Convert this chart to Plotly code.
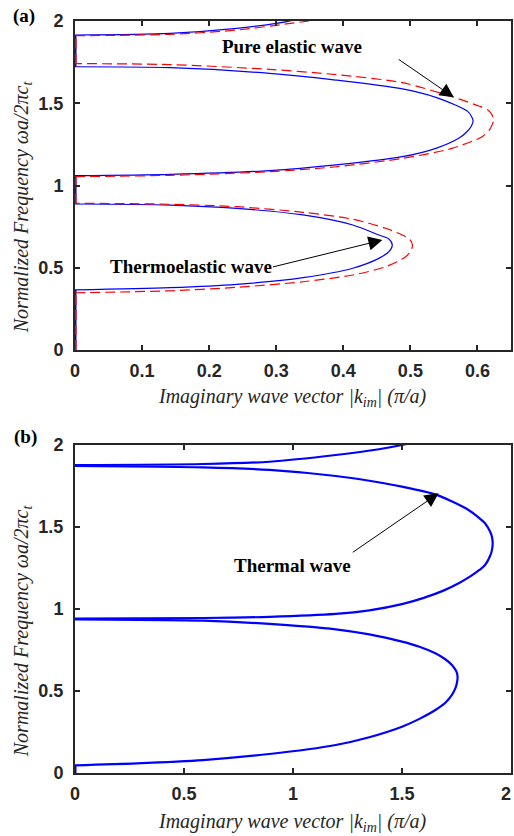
import plotly.graph_objects as go

# ---------------- data ----------------
# Panel (a): thermoelastic (blue) vs pure elastic (red), |k_im| vs normalized frequency
a_blue_l1_k = [0, 0.142, 0.241, 0.340, 0.414, 0.453, 0.468, 0.473, 0.468, 0.453, 0.414, 0.340, 0.241, 0.142, 0]
a_blue_l1_f = [0.365, 0.379, 0.399, 0.440, 0.497, 0.557, 0.598, 0.638, 0.675, 0.699, 0.760, 0.821, 0.861, 0.881, 0.8875]
a_red_l1_k = [0, 0.142, 0.241, 0.340, 0.414, 0.463, 0.493, 0.501, 0.503, 0.500, 0.493, 0.463, 0.414, 0.340, 0.241, 0.142, 0]
a_red_l1_f = [0.348, 0.360, 0.381, 0.415, 0.456, 0.506, 0.567, 0.605, 0.638, 0.668, 0.689, 0.740, 0.795, 0.837, 0.871, 0.886, 0.892]

a_blue_l2_k = [0, 0.142, 0.290, 0.389, 0.488, 0.538, 0.572, 0.585, 0.591, 0.5935, 0.591, 0.585, 0.567, 0.538, 0.488, 0.389, 0.290, 0.142, 0]
a_blue_l2_f = [1.060, 1.068, 1.090, 1.125, 1.175, 1.226, 1.287, 1.330, 1.362, 1.392, 1.421, 1.452, 1.489, 1.536, 1.587, 1.641, 1.682, 1.716, 1.722]
a_red_l2_k = [0, 0.142, 0.290, 0.389, 0.488, 0.562, 0.607, 0.618, 0.622, 0.624, 0.622, 0.616, 0.602, 0.562, 0.488, 0.389, 0.290, 0.142, 0]
a_red_l2_f = [1.054, 1.062, 1.084, 1.114, 1.165, 1.226, 1.297, 1.340, 1.370, 1.398, 1.427, 1.458, 1.483, 1.540, 1.625, 1.674, 1.706, 1.735, 1.741]

a_blue_l3_k = [0, 0.142, 0.241, 0.300, 0.320, 0.340]
a_blue_l3_f = [1.915, 1.925, 1.955, 1.986, 2.000, 2.015]
a_red_l3_k = [0, 0.142, 0.241, 0.315, 0.349, 0.370]
a_red_l3_f = [1.911, 1.919, 1.945, 1.982, 2.000, 2.010]

# zero-|k_im| (pass band) segments on the frequency axis
a_blue_pass_f = [(0, 0.365), (0.8875, 1.060), (1.722, 1.915)]
a_red_pass_f = [(0, 0.348), (0.892, 1.054), (1.741, 1.911)]

# Panel (b): thermal wave
b_l1_k = [0, 0.283, 0.587, 0.892, 1.196, 1.350, 1.500, 1.580, 1.653, 1.700, 1.729, 1.746, 1.752, 1.755,
          1.752, 1.744, 1.729, 1.700, 1.653, 1.580, 1.500, 1.350, 1.196, 0.892, 0.587, 0]
b_l1_f = [0.047, 0.059, 0.079, 0.116, 0.171, 0.218, 0.282, 0.330, 0.384, 0.430, 0.476, 0.520, 0.550, 0.584,
          0.610, 0.632, 0.659, 0.692, 0.730, 0.770, 0.801, 0.845, 0.876, 0.909, 0.929, 0.937]
b_l2_k = [0, 0.587, 0.892, 1.196, 1.350, 1.500, 1.600, 1.690, 1.760, 1.815, 1.855, 1.881, 1.905, 1.913, 1.916,
          1.913, 1.905, 1.881, 1.845, 1.805, 1.730, 1.653, 1.500, 1.350, 1.196, 0.892, 0.587, 0]
b_l2_f = [0.941, 0.945, 0.952, 0.970, 0.992, 1.030, 1.068, 1.112, 1.157, 1.200, 1.238, 1.268, 1.326, 1.362, 1.401,
          1.438, 1.469, 1.523, 1.565, 1.604, 1.655, 1.699, 1.746, 1.782, 1.811, 1.848, 1.864, 1.872]
b_l3_k = [0, 0.587, 0.892, 1.196, 1.394, 1.500, 1.550]
b_l3_f = [1.878, 1.884, 1.898, 1.939, 1.974, 2.000, 2.015]
b_pass_f = [(0, 0.047)]

a_xticks = [0, 0.1, 0.2, 0.3, 0.4, 0.5, 0.6]
b_xticks = [0, 0.5, 1, 1.5]
b_last_xtick = 2
yticks = [0, 0.5, 1, 1.5, 2]

# ---------------- figure ----------------
W, H = 514, 836
ML, MR, MT, MB = 75, 1, 21, 63
PW, PH = W - ML - MR, H - MT - MB


def xp(px):
    return (px - ML) / PW


def yp(py):
    return (H - MB - py) / PH


BLUE = "#0000ff"
RED = "#ff0000"
SANS = "Liberation Sans, Arial, sans-serif"
TICKFONT = dict(family=SANS, size=18, color="#262626")
SERIF = "Liberation Serif, Times New Roman, serif"

fig = go.Figure()


def seg_trace(segs, color, width, dash, xa, ya):
    xs, ys = [], []
    for lo, hi in segs:
        xs += [0, 0, None]
        ys += [lo, hi, None]
    return go.Scatter(x=xs, y=ys, mode="lines", xaxis=xa, yaxis=ya,
                      line=dict(color=color, width=width, dash=dash), hoverinfo="skip", showlegend=False)


def curve(k, f, color, width, dash, xa, ya):
    return go.Scatter(x=k, y=f, mode="lines", xaxis=xa, yaxis=ya,
                      line=dict(color=color, width=width, dash=dash, shape="spline", smoothing=0.8),
                      hoverinfo="skip", showlegend=False)


# panel (a)
for k, f in [(a_blue_l1_k, a_blue_l1_f), (a_blue_l2_k, a_blue_l2_f), (a_blue_l3_k, a_blue_l3_f)]:
    fig.add_trace(curve(k, f, BLUE, 1.2, "solid", "x", "y"))
fig.add_trace(seg_trace(a_blue_pass_f, BLUE, 3, "solid", "x", "y"))
for k, f in [(a_red_l1_k, a_red_l1_f), (a_red_l2_k, a_red_l2_f), (a_red_l3_k, a_red_l3_f)]:
    fig.add_trace(curve(k, f, RED, 1.2, "10px,5px", "x", "y"))
fig.add_trace(seg_trace(a_red_pass_f, RED, 3, "10px,5px", "x", "y"))

# panel (b)
for k, f in [(b_l1_k, b_l1_f), (b_l2_k, b_l2_f), (b_l3_k, b_l3_f)]:
    fig.add_trace(curve(k, f, BLUE, 2.2, "solid", "x2", "y2"))
fig.add_trace(seg_trace(b_pass_f, BLUE, 3, "solid", "x2", "y2"))

axis_common = dict(showline=True, linecolor="#262626", linewidth=2, mirror="ticks",
                   ticks="inside", ticklen=5, tickwidth=1.5, tickcolor="#262626",
                   showgrid=False, zeroline=False, tickfont=TICKFONT)


def bt(vals):
    return ["<b>%s</b>" % v for v in vals]


fig.update_layout(
    width=W, height=H,
    margin=dict(l=ML, r=MR, t=MT, b=MB),
    paper_bgcolor="white", plot_bgcolor="white",
    showlegend=False,
    xaxis=dict(domain=[0, 1], range=[0, 0.65], tickvals=a_xticks, ticktext=bt(a_xticks),
               anchor="y", ticklabelstandoff=3, **axis_common),
    yaxis=dict(domain=[yp(350), 1], range=[0, 2], tickvals=yticks, ticktext=bt(yticks),
               anchor="x", ticklabelstandoff=6, **axis_common),
    xaxis2=dict(domain=[0, 1], range=[0, 2], tickvals=b_xticks + [b_last_xtick],
                ticktext=bt(b_xticks) + [""],
                anchor="y2", ticklabelstandoff=3, **axis_common),
    yaxis2=dict(domain=[0, yp(445)], range=[0, 2], tickvals=yticks, ticktext=bt(yticks),
                anchor="x2", ticklabelstandoff=6, **axis_common),
)

ann = []
# panel labels
ann.append(dict(text="<b>(a)</b>", x=xp(24), y=yp(16), xref="paper", yref="paper", showarrow=False,
                font=dict(family=SERIF, size=19, color="black"), xanchor="center", yanchor="middle"))
ann.append(dict(text="<b>(b)</b>", x=xp(25), y=yp(437), xref="paper", yref="paper", showarrow=False,
                font=dict(family=SERIF, size=19, color="black"), xanchor="center", yanchor="middle"))

# last x tick label of panel (b), kept inside the page at its right edge
ann.append(dict(text="<b>%s</b>" % b_last_xtick, x=xp(514), y=yp(794), xref="paper", yref="paper",
                showarrow=False, font=dict(family=SANS, size=18, color="#262626"),
                xanchor="right", yanchor="middle", xshift=1))

ytitle = "<i>Normalized Frequency ωa/2πc<sub>t</sub></i>"
xtitle = "<i>Imaginary wave vector |k<sub>im</sub>| (π/a)</i>"
for yc in (207, 631):
    ann.append(dict(text=ytitle, x=xp(22), y=yp(yc), xref="paper", yref="paper", showarrow=False,
                    textangle=-90, font=dict(family=SERIF, size=20, color="#262626"),
                    xanchor="center", yanchor="middle"))
for yc in (397, 822):
    ann.append(dict(text=xtitle, x=xp(293), y=yp(yc), xref="paper", yref="paper", showarrow=False,
                    font=dict(family=SERIF, size=20, color="#262626"), xanchor="center", yanchor="middle"))

# text labels on curves
ann.append(dict(text="<b>Pure elastic wave</b>", x=xp(292.5), y=yp(47), xref="paper", yref="paper",
                showarrow=False, font=dict(family=SERIF, size=19, color="black"),
                xanchor="center", yanchor="middle"))
ann.append(dict(text="<b>Thermoelastic wave</b>", x=xp(192), y=yp(266), xref="paper", yref="paper",
                showarrow=False, font=dict(family=SERIF, size=19, color="black"),
                xanchor="center", yanchor="middle"))
ann.append(dict(text="<b>Thermal wave</b>", x=xp(293.7), y=yp(565), xref="paper", yref="paper",
                showarrow=False, font=dict(family=SERIF, size=19, color="black"),
                xanchor="center", yanchor="middle"))

# arrows (head in data coordinates, tail offset in pixels)
arrow_style = dict(text="", showarrow=True, arrowhead=2, arrowsize=2.8, arrowwidth=1,
                   arrowcolor="black", standoff=0, startstandoff=0)
ann.append(dict(x=0.5648, y=1.536, xref="x", yref="y", ax=-56.7, ay=-39, **arrow_style))
ann.append(dict(x=0.4583, y=0.6687, xref="x", yref="y", ax=-111, ay=27.3, **arrow_style))
ann.append(dict(x=1.668, y=1.7055, xref="x2", yref="y2", ax=-87.3, ay=60, **arrow_style))

fig.update_layout(annotations=ann)

fig.write_html("out.html")
